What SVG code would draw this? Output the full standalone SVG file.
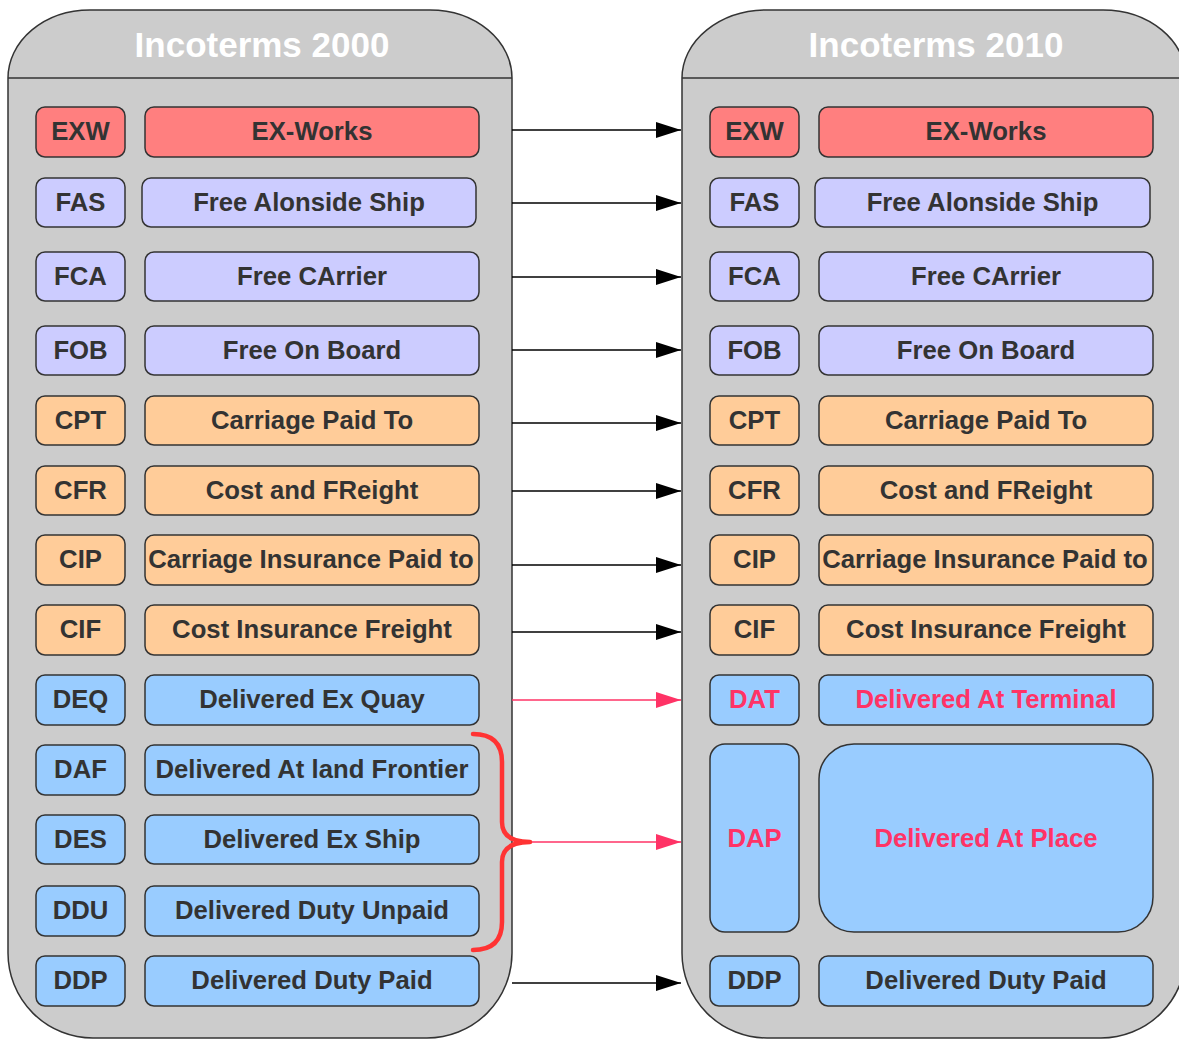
<svg xmlns="http://www.w3.org/2000/svg" width="1179" height="1040" viewBox="0 0 1179 1040">
<style>
.panel{fill:#cccccc;stroke:#333333;stroke-width:1.5}
.hdr{stroke:#333333;stroke-width:1.5}
.title{font-family:"Liberation Sans",Arial,sans-serif;font-weight:bold;font-size:35px;fill:#ffffff;text-anchor:middle}
.box{stroke:#333333;stroke-width:1.5}
.red{fill:#ff7f7f}
.lav{fill:#ccccff}
.peach{fill:#ffcc99}
.blue{fill:#99ccff}
.t{font-family:"Liberation Sans",Arial,sans-serif;font-weight:bold;font-size:25.7px;fill:#333333;text-anchor:middle}
.pk{fill:#ff3366}
.conn{stroke:#000000;stroke-width:1.5;fill:none}
.pconn{stroke:#ff3366;stroke-width:1.5;fill:none}
</style>
<defs>
<marker id="ah" viewBox="0 0 25 16" refX="25" refY="8" markerWidth="25" markerHeight="16" markerUnits="userSpaceOnUse" orient="auto">
<path d="M0,0 L25,8 L0,16 Z" fill="#000000"/>
</marker>
<marker id="ahp" viewBox="0 0 25 16" refX="25" refY="8" markerWidth="25" markerHeight="16" markerUnits="userSpaceOnUse" orient="auto">
<path d="M0,0 L25,8 L0,16 Z" fill="#ff3366"/>
</marker>
</defs>
<rect width="1179" height="1040" fill="#ffffff"/>

<g id="panel2000">
<path class="panel" d="M8,78 A82,68 0 0 1 90,10 L430,10 A82,68 0 0 1 512,78 L512,953 A85,85 0 0 1 427,1038 L93,1038 A85,85 0 0 1 8,953 Z"/>
<line class="hdr" x1="8" y1="78" x2="512" y2="78"/>
<text class="title" x="262" y="57">Incoterms 2000</text>
</g>
<g id="panel2010">
<path class="panel" d="M682,78 A85,68 0 0 1 767,10 L1103,10 A83,68 0 0 1 1186,78 L1186,953 A85,85 0 0 1 1101,1038 L767,1038 A85,85 0 0 1 682,953 Z"/>
<line class="hdr" x1="682" y1="78" x2="1186" y2="78"/>
<text class="title" x="936" y="57">Incoterms 2010</text>
</g>

<g id="l-exw"><rect class="box red" x="36" y="107" width="89" height="50" rx="9"/><text class="t" x="80.5" y="140">EXW</text>
<rect class="box red" x="145" y="107" width="334" height="50" rx="9"/><text class="t" x="312" y="140">EX-Works</text></g>
<g id="l-fas"><rect class="box lav" x="36" y="178" width="89" height="49" rx="9"/><text class="t" x="80.5" y="211">FAS</text>
<rect class="box lav" x="142" y="178" width="334" height="49" rx="9"/><text class="t" x="309" y="211">Free Alonside Ship</text></g>
<g id="l-fca"><rect class="box lav" x="36" y="252" width="89" height="49" rx="9"/><text class="t" x="80.5" y="285">FCA</text>
<rect class="box lav" x="145" y="252" width="334" height="49" rx="9"/><text class="t" x="312" y="285">Free CArrier</text></g>
<g id="l-fob"><rect class="box lav" x="36" y="326" width="89" height="49" rx="9"/><text class="t" x="80.5" y="359">FOB</text>
<rect class="box lav" x="145" y="326" width="334" height="49" rx="9"/><text class="t" x="312" y="359">Free On Board</text></g>
<g id="l-cpt"><rect class="box peach" x="36" y="396" width="89" height="49" rx="9"/><text class="t" x="80.5" y="429">CPT</text>
<rect class="box peach" x="145" y="396" width="334" height="49" rx="9"/><text class="t" x="312" y="429">Carriage Paid To</text></g>
<g id="l-cfr"><rect class="box peach" x="36" y="466" width="89" height="49" rx="9"/><text class="t" x="80.5" y="499">CFR</text>
<rect class="box peach" x="145" y="466" width="334" height="49" rx="9"/><text class="t" x="312" y="499">Cost and FReight</text></g>
<g id="l-cip"><rect class="box peach" x="36" y="535" width="89" height="50" rx="9"/><text class="t" x="80.5" y="568">CIP</text>
<rect class="box peach" x="145" y="535" width="334" height="50" rx="9"/><text class="t" x="311" y="568">Carriage Insurance Paid to</text></g>
<g id="l-cif"><rect class="box peach" x="36" y="605" width="89" height="50" rx="9"/><text class="t" x="80.5" y="638">CIF</text>
<rect class="box peach" x="145" y="605" width="334" height="50" rx="9"/><text class="t" x="312" y="638">Cost Insurance Freight</text></g>
<g id="l-deq"><rect class="box blue" x="36" y="675" width="89" height="50" rx="9"/><text class="t" x="80.5" y="708">DEQ</text>
<rect class="box blue" x="145" y="675" width="334" height="50" rx="9"/><text class="t" x="312" y="708">Delivered Ex Quay</text></g>
<g id="l-daf"><rect class="box blue" x="36" y="745" width="89" height="50" rx="9"/><text class="t" x="80.5" y="778">DAF</text>
<rect class="box blue" x="145" y="745" width="334" height="50" rx="9"/><text class="t" x="312" y="778">Delivered At land Frontier</text></g>
<g id="l-des"><rect class="box blue" x="36" y="815" width="89" height="49" rx="9"/><text class="t" x="80.5" y="848">DES</text>
<rect class="box blue" x="145" y="815" width="334" height="49" rx="9"/><text class="t" x="312" y="848">Delivered Ex Ship</text></g>
<g id="l-ddu"><rect class="box blue" x="36" y="886" width="89" height="50" rx="9"/><text class="t" x="80.5" y="919">DDU</text>
<rect class="box blue" x="145" y="886" width="334" height="50" rx="9"/><text class="t" x="312" y="919">Delivered Duty Unpaid</text></g>
<g id="l-ddp"><rect class="box blue" x="36" y="956" width="89" height="50" rx="9"/><text class="t" x="80.5" y="989">DDP</text>
<rect class="box blue" x="145" y="956" width="334" height="50" rx="9"/><text class="t" x="312" y="989">Delivered Duty Paid</text></g>

<g id="r-exw"><rect class="box red" x="710" y="107" width="89" height="50" rx="9"/><text class="t" x="754.5" y="140">EXW</text>
<rect class="box red" x="819" y="107" width="334" height="50" rx="9"/><text class="t" x="986" y="140">EX-Works</text></g>
<g id="r-fas"><rect class="box lav" x="710" y="178" width="89" height="49" rx="9"/><text class="t" x="754.5" y="211">FAS</text>
<rect class="box lav" x="815" y="178" width="335" height="49" rx="9"/><text class="t" x="982.5" y="211">Free Alonside Ship</text></g>
<g id="r-fca"><rect class="box lav" x="710" y="252" width="89" height="49" rx="9"/><text class="t" x="754.5" y="285">FCA</text>
<rect class="box lav" x="819" y="252" width="334" height="49" rx="9"/><text class="t" x="986" y="285">Free CArrier</text></g>
<g id="r-fob"><rect class="box lav" x="710" y="326" width="89" height="49" rx="9"/><text class="t" x="754.5" y="359">FOB</text>
<rect class="box lav" x="819" y="326" width="334" height="49" rx="9"/><text class="t" x="986" y="359">Free On Board</text></g>
<g id="r-cpt"><rect class="box peach" x="710" y="396" width="89" height="49" rx="9"/><text class="t" x="754.5" y="429">CPT</text>
<rect class="box peach" x="819" y="396" width="334" height="49" rx="9"/><text class="t" x="986" y="429">Carriage Paid To</text></g>
<g id="r-cfr"><rect class="box peach" x="710" y="466" width="89" height="49" rx="9"/><text class="t" x="754.5" y="499">CFR</text>
<rect class="box peach" x="819" y="466" width="334" height="49" rx="9"/><text class="t" x="986" y="499">Cost and FReight</text></g>
<g id="r-cip"><rect class="box peach" x="710" y="535" width="89" height="50" rx="9"/><text class="t" x="754.5" y="568">CIP</text>
<rect class="box peach" x="819" y="535" width="334" height="50" rx="9"/><text class="t" x="985" y="568">Carriage Insurance Paid to</text></g>
<g id="r-cif"><rect class="box peach" x="710" y="605" width="89" height="50" rx="9"/><text class="t" x="754.5" y="638">CIF</text>
<rect class="box peach" x="819" y="605" width="334" height="50" rx="9"/><text class="t" x="986" y="638">Cost Insurance Freight</text></g>
<g id="r-dat"><rect class="box blue" x="710" y="675" width="89" height="50" rx="9"/><text class="t pk" x="754.5" y="708">DAT</text>
<rect class="box blue" x="819" y="675" width="334" height="50" rx="9"/><text class="t pk" x="986" y="708">Delivered At Terminal</text></g>
<g id="r-dap"><rect class="box blue" x="710" y="744" width="89" height="188" rx="15"/><text class="t pk" x="754.5" y="847">DAP</text>
<rect class="box blue" x="819" y="744" width="334" height="188" rx="35"/><text class="t pk" x="986" y="847">Delivered At Place</text></g>
<g id="r-ddp"><rect class="box blue" x="710" y="956" width="89" height="50" rx="9"/><text class="t" x="754.5" y="989">DDP</text>
<rect class="box blue" x="819" y="956" width="334" height="50" rx="9"/><text class="t" x="986" y="989">Delivered Duty Paid</text></g>

<g id="connectors">
<line class="conn" x1="512" y1="130" x2="681" y2="130" marker-end="url(#ah)"/>
<line class="conn" x1="512" y1="203" x2="681" y2="203" marker-end="url(#ah)"/>
<line class="conn" x1="512" y1="277" x2="681" y2="277" marker-end="url(#ah)"/>
<line class="conn" x1="512" y1="350" x2="681" y2="350" marker-end="url(#ah)"/>
<line class="conn" x1="512" y1="423" x2="681" y2="423" marker-end="url(#ah)"/>
<line class="conn" x1="512" y1="491" x2="681" y2="491" marker-end="url(#ah)"/>
<line class="conn" x1="512" y1="565" x2="681" y2="565" marker-end="url(#ah)"/>
<line class="conn" x1="512" y1="632" x2="681" y2="632" marker-end="url(#ah)"/>
<line class="pconn" x1="512" y1="700" x2="681" y2="700" marker-end="url(#ahp)"/>
<line class="pconn" x1="528" y1="842" x2="681" y2="842" marker-end="url(#ahp)"/>
<line class="conn" x1="512" y1="983" x2="681" y2="983" marker-end="url(#ah)"/>
<path d="M473,734 Q502,734 502,762 L502,822 Q502,842 530,842 Q502,842 502,862 L502,922 Q502,950 473,950" fill="none" stroke="#ff3333" stroke-width="4.5" stroke-linecap="round" stroke-linejoin="round"/>
</g>
</svg>
